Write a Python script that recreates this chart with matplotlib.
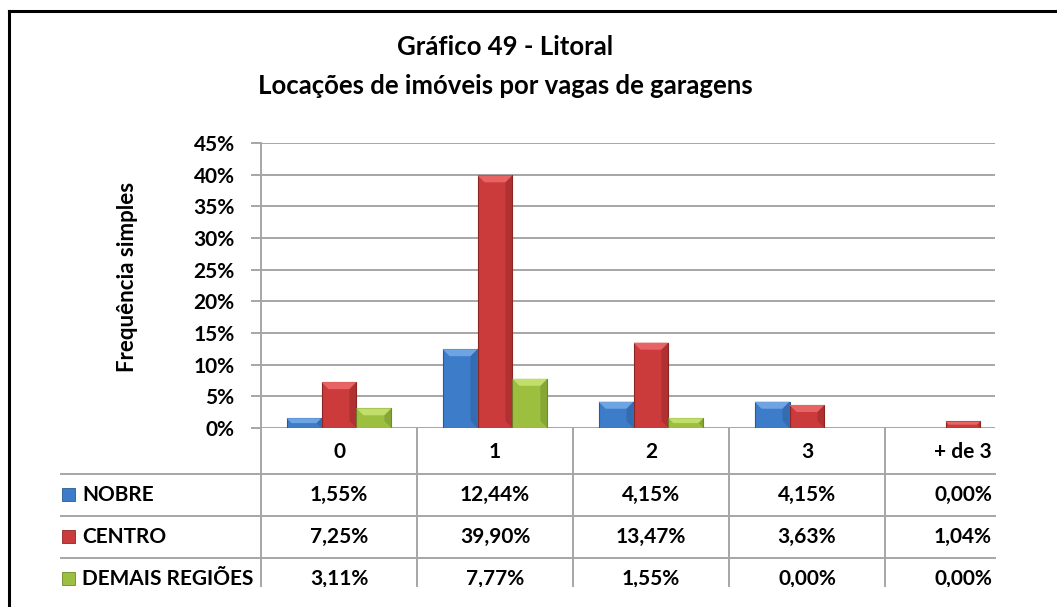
import numpy as np
import matplotlib
matplotlib.use('Agg')
import matplotlib.pyplot as plt
from matplotlib.patches import Rectangle, Polygon
from matplotlib.transforms import blended_transform_factory

plt.rcParams['font.family'] = ['Lato', 'DejaVu Sans']

######### data #########
categories = ['0', '1', '2', '3', '+ de 3']
series = ['NOBRE', 'CENTRO', 'DEMAIS REGIÕES']
nobre = [1.55, 12.44, 4.15, 4.15, 0.00]
centro = [7.25, 39.90, 13.47, 3.63, 1.04]
demais = [3.11, 7.77, 1.55, 0.00, 0.00]
yticks = [0, 5, 10, 15, 20, 25, 30, 35, 40, 45]

values = [nobre, centro, demais]
face = ['#3D7CC9', '#CB3B3B', '#9CBF3F']
light = ['#6FA4E3', '#E86464', '#C2DE6A']
dark = ['#2A5A94', '#8E2525', '#6E8A2A']

FS = 15

W, H = 1057, 607
fig = plt.figure(figsize=(W / 100, H / 100), dpi=100)

def fx(px):
    return px / W

def fy(py):
    return 1 - py / H

# plot area in pixels: left 261, right 995, top 143 (45%), bottom 428 (0%)
ax = fig.add_axes([fx(261), fy(428), fx(995) - fx(261), fy(143) - fy(428)])
cat_px = 156.0
ax.set_xlim(-0.5, -0.5 + (995 - 261) / cat_px)
ax.set_ylim(0, 45)

bw = 0.224
bev_x = 7 / cat_px
bev_y = 7 * 45 / 285
x = np.arange(len(categories))
for i, vals in enumerate(values):
    vals = np.array(vals)
    xs = x + (i - 1) * bw
    keep = vals > 0
    ax.bar(xs[keep], vals[keep], width=bw, color=face[i], edgecolor=dark[i],
           linewidth=0.8, zorder=3)
    for xc, v in zip(xs[keep], vals[keep]):
        d = min(bev_y, v / 2)
        dx = bev_x * d / bev_y
        x0, x1 = xc - bw / 2, xc + bw / 2
        ax.add_patch(Polygon([(x0, v), (x1, v), (x1 - dx, v - d), (x0 + dx, v - d)],
                             closed=True, facecolor=light[i], edgecolor='none', zorder=4))
        ax.add_patch(Polygon([(x1, v), (x1, 0), (x1 - dx, d), (x1 - dx, v - d)],
                             closed=True, facecolor=dark[i], edgecolor='none',
                             alpha=0.45, zorder=4))

ax.set_yticks(yticks)
ax.set_yticklabels([f'{t}%' for t in yticks], fontsize=FS, fontweight='bold')
ax.set_xticks([])
ax.yaxis.grid(True, color='#A6A6A6', linewidth=1.4)
ax.set_axisbelow(True)
for s in ['top', 'right', 'bottom']:
    ax.spines[s].set_visible(False)
ax.spines['left'].set_color('#A6A6A6')
ax.spines['left'].set_linewidth(1.4)
ax.tick_params(axis='y', length=7, width=1.4, color='#A6A6A6', pad=12)

fig.text(fx(127), fy(277), 'Frequência simples', rotation=90, ha='center', va='center',
         fontsize=FS + 1, fontweight='bold')

fig.text(fx(505), fy(47), 'Gráfico 49 - Litoral', ha='center', va='center',
         fontsize=18.5, fontweight='bold')
fig.text(fx(505), fy(86), 'Locações de imóveis por vagas de garagens', ha='center',
         va='center', fontsize=18.5, fontweight='bold')

######### data table under the axis #########
# the chart object is cut off on the right and at the bottom
clip = Rectangle((0, fy(587)), fx(995), 1 - fy(587), transform=fig.transFigure,
                 facecolor='none', edgecolor='none')
fig.add_artist(clip)
blend = blended_transform_factory(ax.transData, fig.transFigure)
grid = dict(color='#A6A6A6', linewidth=1.4)

for b in np.arange(len(categories) + 1) - 0.5:
    ln = plt.Line2D([b, b], [fy(428), fy(587)], transform=blend, **grid)
    fig.add_artist(ln)
    ln.set_clip_path(clip)
for ry in [474, 516, 558]:
    fig.add_artist(plt.Line2D([fx(61), fx(995)], [fy(ry), fy(ry)], **grid))

for j, c in enumerate(categories):
    t = fig.text(j, fy(452), c, transform=blend, ha='center', va='center',
                 fontsize=FS, fontweight='bold')
    t.set_clip_path(clip)

row_y = [495, 537, 579]
for i, (name, vals) in enumerate(zip(series, values)):
    yc = row_y[i]
    fig.add_artist(Rectangle((fx(62), fy(yc + 6)), fx(13), 13 / H, transform=fig.transFigure,
                             facecolor=face[i], edgecolor=dark[i], linewidth=0.6))
    t = fig.text(fx(82), fy(yc), name, ha='left', va='center', fontsize=FS, fontweight='bold')
    t.set_clip_path(clip)
    for j, v in enumerate(vals):
        t = fig.text(j, fy(yc), f'{v:.2f}%'.replace('.', ','), transform=blend,
                     ha='center', va='center', fontsize=FS, fontweight='bold')
        t.set_clip_path(clip)

# frame of the chart box (left and top edges)
fig.add_artist(plt.Line2D([fx(9), fx(9)], [fy(11), 0], color='black', linewidth=2.2))
fig.add_artist(plt.Line2D([fx(9), 1], [fy(11), fy(11)], color='black', linewidth=2.2))

fig.savefig('out.png', dpi=100)
